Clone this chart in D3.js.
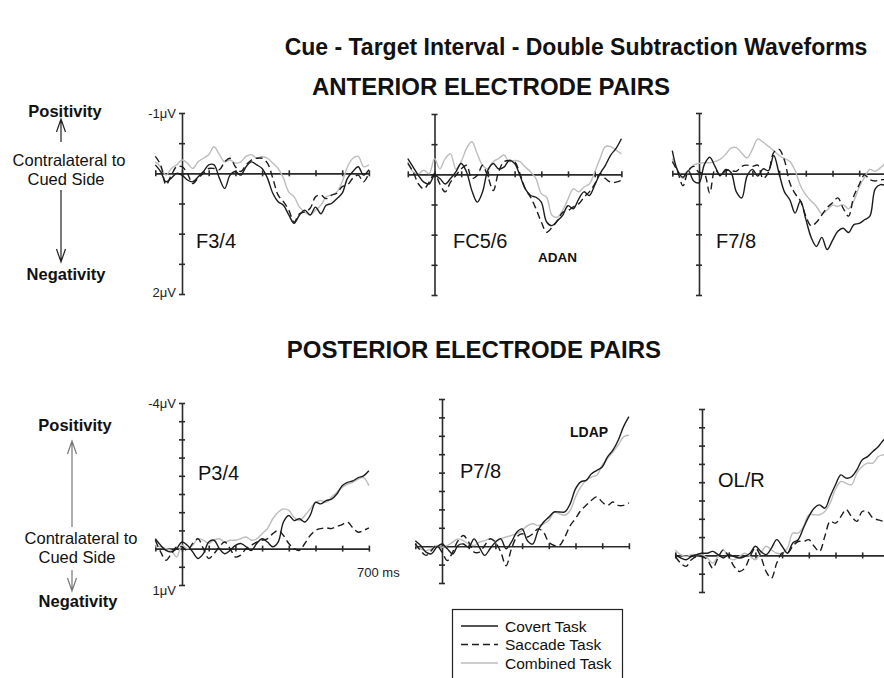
<!DOCTYPE html>
<html>
<head>
<meta charset="utf-8">
<script src="https://cdn.jsdelivr.net/npm/d3@7"></script>
<style>
  body { margin: 0; background: #fff; }
  svg { display: block; font-family: "Liberation Sans", Arial, sans-serif; }
</style>
</head>
<body>
<svg id="chart" width="884" height="678"></svg>
<script>
// sample times in ms, one every 20 ms
var times = [-100,-80,-60,-40,-20,0,20,40,60,80,100,120,140,160,180,200,220,240,260,280,300,
  320,340,360,380,400,420,440,460,480,500,520,540,560,580,600,620,640,660,680,700];

var seriesNames = ["Covert Task", "Saccade Task", "Combined Task"];

// amplitudes in microvolts (negative drawn upwards)
// ---- anterior pairs ----
var f34Covert = [-0.14,-0.03,0.14,0.08,0,0.03,0.11,0.14,0.06,-0.03,-0.14,-0.14,0.08,0.25,0.03,-0.03,0.03,-0.11,-0.19,-0.14,-0.08,
  0.08,0.33,0.47,0.53,0.69,0.83,0.69,0.61,0.69,0.56,0.67,0.53,0.5,0.42,0.33,0.08,-0.03,-0.11,0.03,-0.06];
var f34Saccade = [-0.28,-0.14,0.19,0.03,-0.11,-0.11,0,0.17,0.08,0,-0.08,-0.08,-0.06,-0.19,-0.25,-0.11,-0.03,-0.14,-0.22,-0.25,-0.25,
  -0.17,0.08,0.36,0.47,0.61,0.81,0.67,0.64,0.58,0.39,0.36,0.42,0.36,0.33,0.22,0.19,0.08,0.03,0.14,0];
var f34Combined = [-0.19,-0.11,0.03,-0.08,-0.14,-0.22,-0.17,-0.08,-0.19,-0.25,-0.31,-0.44,-0.31,-0.19,-0.22,-0.17,-0.19,-0.28,-0.31,-0.25,-0.28,
  -0.25,-0.17,-0.08,0.08,0.31,0.39,0.56,0.64,0.69,0.61,0.53,0.39,0.36,0.31,0.14,-0.11,-0.25,-0.28,-0.11,-0.14];

var fc56Covert = [-0.26,-0.12,0.02,0.13,0.16,0.02,0.07,0.16,0.07,-0.04,-0.18,-0.04,0.27,0.46,0.29,-0.07,-0.18,-0.09,-0.12,-0.23,-0.18,
  0.02,0.24,0.35,0.38,0.46,0.79,0.85,0.77,0.68,0.52,0.57,0.41,0.29,0.35,0.18,-0.01,-0.15,-0.32,-0.43,-0.59];
var fc56Saccade = [-0.18,-0.04,0.16,0.24,0.13,-0.01,0.16,0.29,0.13,0.02,-0.09,-0.15,0.07,0.02,-0.15,0.04,0.27,-0.04,-0.21,-0.23,-0.21,
  -0.01,0.24,0.38,0.57,0.79,0.96,0.88,0.77,0.63,0.6,0.54,0.49,0.38,0.29,0.16,-0.01,0.07,0.13,0.13,0.1];
var fc56Combined = [-0.21,-0.04,-0.01,-0.07,-0.01,-0.26,-0.09,-0.26,-0.34,-0.09,-0.21,-0.43,-0.54,-0.34,-0.15,-0.09,-0.21,-0.26,-0.32,-0.21,-0.23,
  -0.21,-0.12,-0.04,0.07,0.32,0.38,0.68,0.71,0.6,0.41,0.24,0.29,0.21,0.16,-0.04,-0.26,-0.46,-0.46,-0.4,-0.34];

var f78Covert = [-0.38,-0.05,0.06,-0.05,0.12,0.15,-0.15,-0.27,-0.12,0.03,-0.07,-0.02,0.3,0.4,0.04,-0.07,0.04,-0.08,-0.05,-0.3,0,
  0.3,0.43,0.65,0.45,0.75,1.05,1.2,1.05,1.25,1.1,0.95,0.9,0.97,0.84,0.82,0.76,0.7,0.25,0.18,0.2];
var f78Saccade = [-0.2,-0.03,0.2,-0.05,-0.12,-0.02,0,0.32,-0.07,0.04,-0.05,-0.05,-0.04,-0.12,-0.14,-0.12,-0.14,0.08,-0.02,-0.35,-0.4,
  -0.22,0.15,0.33,0.45,0.7,0.86,0.8,0.68,0.56,0.48,0.4,0.57,0.7,0.37,0.18,0.02,0.1,0.12,0.1,0.1];
var f78Combined = [-0.25,-0.05,0.08,-0.03,-0.14,-0.17,-0.18,-0.18,-0.2,-0.24,-0.32,-0.42,-0.43,-0.34,-0.26,-0.4,-0.57,-0.52,-0.45,-0.38,-0.3,
  -0.25,-0.2,-0.05,0.2,0.35,0.45,0.54,0.66,0.6,0.52,0.54,0.51,0.58,0.45,0.22,0.06,-0.07,-0.04,-0.1,-0.18];

// ---- posterior pairs ----
var p34Covert = [-0.27,-0.09,0.05,0.09,0,-0.18,-0.09,0.09,0.27,0.14,-0.18,-0.23,0,0.14,0.05,-0.09,-0.14,-0.05,0.05,-0.14,-0.27,
  -0.18,-0.05,-0.18,-0.73,-0.91,-0.77,-0.82,-0.73,-0.91,-1.27,-1.23,-1.32,-1.36,-1.5,-1.73,-1.82,-1.86,-1.95,-2,-2.14];
var p34Saccade = [-0.23,0.09,0.32,0.14,-0.05,-0.05,0.05,-0.14,-0.27,0,0.27,0.14,-0.05,-0.18,0,0.23,0.18,0,-0.09,-0.18,-0.23,
  -0.27,-0.41,-0.5,-0.36,-0.14,0,0.05,-0.14,-0.36,-0.5,-0.55,-0.57,-0.55,-0.61,-0.66,-0.73,-0.57,-0.45,-0.5,-0.57];
var p34Combined = [-0.05,-0.05,0,0.05,0.23,-0.09,0,-0.09,-0.27,-0.23,-0.14,-0.23,-0.27,-0.18,-0.23,-0.23,-0.27,-0.32,-0.23,-0.27,-0.41,
  -0.55,-0.82,-1,-1.09,-1.05,-0.86,-0.77,-0.91,-1.09,-1.27,-1.32,-1.27,-1.41,-1.55,-1.68,-1.77,-1.82,-1.91,-1.95,-1.73];

var p78Covert = [-0.15,-0.02,0.16,0.21,0.03,-0.06,0.07,0.21,-0.02,-0.06,0.03,-0.2,0.03,0.25,0.07,-0.11,-0.2,0.07,-0.11,-0.38,-0.47,
  -0.15,-0.06,-0.43,-0.65,-0.79,-0.93,-0.93,-0.93,-1.15,-1.56,-1.75,-1.79,-1.97,-2.06,-2.15,-2.43,-2.61,-2.88,-3.25,-3.52];
var p78Saccade = [-0.06,0.12,0.25,0.12,-0.02,0.16,0.39,0.16,-0.15,-0.29,-0.11,0.16,0.16,-0.02,-0.2,-0.11,0.16,0.53,0.07,-0.25,-0.34,
  -0.25,-0.34,-0.47,-0.38,-0.11,-0.02,-0.02,-0.25,-0.56,-0.75,-0.97,-1.11,-1.25,-1.34,-1.2,-1.11,-1.2,-1.11,-1.11,-1.18];
var p78Combined = [-0.02,0.07,0.12,0.07,-0.02,0.03,-0.02,-0.11,-0.2,-0.15,-0.06,-0.02,-0.11,-0.15,-0.2,-0.15,-0.2,-0.25,-0.29,-0.34,-0.43,
  -0.56,-0.61,-0.56,-0.61,-0.7,-0.93,-0.88,-0.84,-0.97,-1.34,-1.61,-1.79,-1.88,-1.93,-2.2,-2.38,-2.56,-2.75,-2.97,-3.02];

var olrCovert = [-0.02,0.07,0.12,0.03,-0.02,-0.06,-0.06,-0.11,-0.02,0.07,-0.02,0.03,0.07,0.03,-0.06,-0.25,-0.11,-0.02,-0.2,-0.43,-0.25,
  -0.06,-0.34,-0.43,-0.75,-1.06,-1.29,-1.38,-1.29,-1.61,-1.93,-2.2,-2.11,-2.15,-2.34,-2.61,-2.7,-2.84,-2.97,-3.15,-3.25];
var olrSaccade = [0.03,0.21,0.3,0.12,0.03,0.03,0.12,0.35,0.07,-0.15,0.03,0.3,0.44,0.35,0.03,-0.2,0.03,0.44,0.62,0.21,-0.06,
  -0.06,-0.25,-0.38,-0.38,-0.43,-0.25,-0.11,-0.52,-0.93,-0.88,-1.06,-1.25,-1.06,-0.93,-1.2,-1.2,-1.02,-0.97,-0.93,-0.88];
var olrCombined = [-0.15,-0.02,0.03,-0.02,-0.02,-0.02,0.07,0.21,0.03,-0.15,0.07,0.12,0.03,-0.06,0.03,0.12,-0.06,-0.25,-0.15,-0.06,-0.06,
  -0.2,-0.61,-0.61,-0.79,-1.11,-1.11,-1.11,-1.2,-1.43,-1.81,-2.02,-1.97,-1.93,-2.25,-2.43,-2.52,-2.52,-2.7,-2.75,-2.79];

// axis ranges per row (microvolts) and time ticks
var anteriorRange = [-1, 2];
var posteriorRange = [-4, 1];
var timeTicks = [-100,0,100,200,300,400,500,600,700];

var svg = d3.select("#chart");
svg.append("rect").attr("width", 884).attr("height", 678).attr("fill", "#fff");

// ---------- panel layout (x0 = pixel of 0 ms) ----------
var panels = [
  { label: "F3/4",  x0: 182,   top: 113, bottom: 294, range: anteriorRange,  data: [f34Covert, f34Saccade, f34Combined], lx: 196, ly: 248 },
  { label: "FC5/6", x0: 434.5, top: 114, bottom: 295, range: anteriorRange,  data: [fc56Covert, fc56Saccade, fc56Combined], lx: 453, ly: 248 },
  { label: "F7/8",  x0: 699,   top: 113, bottom: 295, range: anteriorRange,  data: [f78Covert, f78Saccade, f78Combined], lx: 716, ly: 248 },
  { label: "P3/4",  x0: 182,   top: 403, bottom: 585, range: posteriorRange, data: [p34Covert, p34Saccade, p34Combined], lx: 198, ly: 480 },
  { label: "P7/8",  x0: 442,   top: 399, bottom: 583, range: posteriorRange, data: [p78Covert, p78Saccade, p78Combined], lx: 460, ly: 478 },
  { label: "OL/R",  x0: 702,   top: 409, bottom: 592, range: posteriorRange, data: [olrCovert, olrSaccade, olrCombined], lx: 718, ly: 487 }
];

var styles = [
  { stroke: "#1c1c1c", dash: null },
  { stroke: "#1c1c1c", dash: "7,4" },
  { stroke: "#bdbdbd", dash: null }
];

var msPx = 26.7; // pixels per 100 ms

panels.forEach(function(p) {
  var x = d3.scaleLinear().domain([-100, 700]).range([p.x0 - msPx, p.x0 + 7 * msPx]);
  var y = d3.scaleLinear().domain(p.range).range([p.top, p.bottom]);
  var g = svg.append("g");

  // y axis with crossing ticks every 0.5 uV
  var yAx = g.append("g")
    .attr("transform", "translate(" + p.x0 + ",0)")
    .call(d3.axisLeft(y).tickValues(d3.range(p.range[0], p.range[1] + 0.01, 0.5)).tickSizeOuter(0).tickFormat(""));
  yAx.selectAll(".tick line").attr("x1", 3).attr("x2", -3);

  // x axis at 0 uV
  var xAx = g.append("g")
    .attr("transform", "translate(0," + y(0) + ")")
    .call(d3.axisBottom(x).tickValues(timeTicks).tickSizeOuter(0).tickFormat(""));
  xAx.selectAll(".tick line").attr("y1", -3).attr("y2", 3);

  g.selectAll(".domain, .tick line").attr("stroke", "#2a2a2a").attr("stroke-width", 1.6);

  var line = d3.line()
    .curve(d3.curveCatmullRom)
    .x(function(d, i) { return x(times[i]); })
    .y(function(d) { return y(d); });

  // draw combined first, covert last so it sits on top
  [2, 1, 0].forEach(function(k) {
    g.append("path")
      .datum(p.data[k])
      .attr("fill", "none")
      .attr("stroke", styles[k].stroke)
      .attr("stroke-width", 1.4)
      .attr("stroke-dasharray", styles[k].dash)
      .attr("d", line);
  });

  g.append("text")
    .attr("x", p.lx).attr("y", p.ly)
    .attr("font-size", 20).attr("fill", "#111")
    .text(p.label);
});

// ---------- titles ----------
svg.append("text").attr("x", 576).attr("y", 55).attr("text-anchor", "middle")
  .attr("font-size", 23).attr("font-weight", "bold").attr("fill", "#111")
  .text("Cue - Target Interval - Double Subtraction Waveforms");
svg.append("text").attr("x", 491).attr("y", 95).attr("text-anchor", "middle")
  .attr("font-size", 24).attr("font-weight", "bold").attr("fill", "#111")
  .text("ANTERIOR ELECTRODE PAIRS");
svg.append("text").attr("x", 474).attr("y", 358).attr("text-anchor", "middle")
  .attr("font-size", 24).attr("font-weight", "bold").attr("fill", "#111")
  .text("POSTERIOR ELECTRODE PAIRS");

// ---------- axis value labels ----------
var uvLabels = [
  { t: "-1\u03bcV", y: 118 }, { t: "2\u03bcV", y: 297 },
  { t: "-4\u03bcV", y: 408 }, { t: "1\u03bcV", y: 595 }
];
uvLabels.forEach(function(d) {
  svg.append("text").attr("x", 176).attr("y", d.y).attr("text-anchor", "end")
    .attr("font-size", 13).attr("fill", "#222").text(d.t);
});
svg.append("text").attr("x", 357).attr("y", 577).attr("font-size", 13).attr("fill", "#222").text("700 ms");

// component labels
svg.append("text").attr("x", 538).attr("y", 262).attr("font-size", 13.5).attr("font-weight", "bold").attr("fill", "#111").text("ADAN");
svg.append("text").attr("x", 570).attr("y", 437).attr("font-size", 14).attr("font-weight", "bold").attr("fill", "#111").text("LDAP");

// ---------- polarity key on the left ----------
function arrow(x, y1, y2, color) {
  var dir = y2 < y1 ? 1 : -1;
  svg.append("path")
    .attr("d", "M" + x + "," + y1 + "V" + y2 + "M" + (x - 4.5) + "," + (y2 + dir * 13) + "L" + x + "," + y2 + "L" + (x + 4.5) + "," + (y2 + dir * 13))
    .attr("fill", "none").attr("stroke", color).attr("stroke-width", 1.2);
}
function keyText(x, y, t, bold) {
  svg.append("text").attr("x", x).attr("y", y).attr("text-anchor", "middle")
    .attr("font-size", 16.5).attr("font-weight", bold ? "bold" : null).attr("fill", "#111").text(t);
}
keyText(65, 117, "Positivity", true);
arrow(61, 142, 119, "#222");
keyText(69, 166, "Contralateral to", false);
keyText(66, 185, "Cued Side", false);
arrow(61, 190, 262, "#222");
keyText(66, 280, "Negativity", true);

keyText(75, 431, "Positivity", true);
arrow(72, 527, 441, "#777");
keyText(81, 544, "Contralateral to", false);
keyText(77, 563, "Cued Side", false);
arrow(72, 570, 591, "#777");
keyText(78, 607, "Negativity", true);

// ---------- legend ----------
var legend = svg.append("g");
legend.append("rect").attr("x", 452.5).attr("y", 609.5).attr("width", 170).attr("height", 90)
  .attr("fill", "#fff").attr("stroke", "#222").attr("stroke-width", 1.2);
seriesNames.forEach(function(name, i) {
  var ly = 626 + i * 18.5;
  legend.append("line").attr("x1", 461).attr("x2", 498).attr("y1", ly).attr("y2", ly)
    .attr("stroke", styles[i].stroke).attr("stroke-width", 1.4).attr("stroke-dasharray", styles[i].dash);
  legend.append("text").attr("x", 505).attr("y", ly + 5.5).attr("font-size", 15.5).attr("fill", "#111").text(name);
});
</script>
</body>
</html>
